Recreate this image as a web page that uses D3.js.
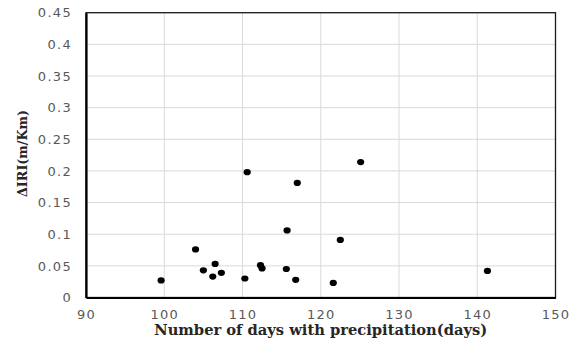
<!DOCTYPE html>
<html>
<head>
<meta charset="utf-8">
<script src="https://cdn.jsdelivr.net/npm/d3@7"></script>
<style>
  html, body { margin: 0; padding: 0; background: #fff; }
  svg { display: block; }
</style>
</head>
<body>
<svg id="chart" width="581" height="344"></svg>
<script>
// Number of days with precipitation (x) vs. change in IRI (y)
const days = [99.6, 104.0, 105.0, 106.2, 106.5, 107.3, 110.3, 110.6, 112.3, 112.5,
              115.6, 115.7, 116.8, 117.0, 121.6, 122.5, 125.1, 141.3];
const deltaIRI = [0.027, 0.076, 0.043, 0.033, 0.053, 0.039, 0.030, 0.198, 0.051, 0.046,
                  0.045, 0.106, 0.028, 0.181, 0.023, 0.091, 0.214, 0.042];
const xTicks = [90, 100, 110, 120, 130, 140, 150];
const yTicks = [0, 0.05, 0.1, 0.15, 0.2, 0.25, 0.3, 0.35, 0.4, 0.45];
const xTitle = "Number of days with precipitation(days)";
const yTitle = "\u0394IRI(m/Km)";

const svg = d3.select("#chart");
const m = { left: 86, right: 555.5, top: 12.7, bottom: 297.5 };

const x = d3.scaleLinear().domain([90, 150]).range([m.left, m.right]);
const y = d3.scaleLinear().domain([0, 0.45]).range([m.bottom, m.top]);

// gridlines
svg.append("g")
  .selectAll("line")
  .data(yTicks.filter(d => d > 0))
  .join("line")
  .attr("x1", m.left).attr("x2", m.right)
  .attr("y1", d => y(d)).attr("y2", d => y(d))
  .attr("stroke", "#d9d9d9").attr("stroke-width", 1);

svg.append("g")
  .selectAll("line")
  .data(xTicks.filter(d => d > 90 && d < 150))
  .join("line")
  .attr("y1", m.top).attr("y2", m.bottom)
  .attr("x1", d => x(d)).attr("x2", d => x(d))
  .attr("stroke", "#d9d9d9").attr("stroke-width", 1);

// plot frame
svg.append("rect")
  .attr("x", m.left).attr("y", m.top)
  .attr("width", m.right - m.left).attr("height", m.bottom - m.top)
  .attr("fill", "none").attr("stroke", "#1a1a1a").attr("stroke-width", 1.3);

// axes via d3-axis (domain lines heavier, no tick marks)
const fmt = d3.format("");
const xAxis = svg.append("g")
  .attr("transform", `translate(0,${m.bottom})`)
  .call(d3.axisBottom(x).tickValues(xTicks).tickSize(0).tickPadding(12).tickFormat(d => fmt(d)));
const yAxis = svg.append("g")
  .attr("transform", `translate(${m.left},0)`)
  .call(d3.axisLeft(y).tickValues(yTicks).tickSize(0).tickPadding(14).tickFormat(d => fmt(d)));

[xAxis, yAxis].forEach(g => {
  g.select(".domain").attr("stroke", "#000").attr("stroke-width", 2.2);
  g.selectAll("text")
    .attr("fill", "#595959")
    .attr("font-family", "DejaVu Sans, sans-serif")
    .attr("font-size", 13)
    .attr("letter-spacing", 1.3);
});
xAxis.selectAll("text").attr("dy", "0.71em");

// points
svg.append("g")
  .selectAll("ellipse")
  .data(days.map((d, i) => [d, deltaIRI[i]]))
  .join("ellipse")
  .attr("cx", d => x(d[0]))
  .attr("cy", d => y(d[1]))
  .attr("rx", 3.6).attr("ry", 3.1)
  .attr("fill", "#000");

// axis titles
const xt = svg.append("text")
  .attr("x", (m.left + m.right) / 2)
  .attr("y", 335)
  .attr("text-anchor", "middle")
  .attr("font-family", "DejaVu Serif, serif")
  .attr("font-weight", "bold")
  .attr("font-size", 14)
  .attr("fill", "#262626")
  .text(xTitle);
xt.attr("textLength", 333).attr("lengthAdjust", "spacingAndGlyphs");

svg.append("text")
  .attr("transform", "translate(27,153.5) rotate(-90)")
  .attr("text-anchor", "middle")
  .attr("font-family", "DejaVu Serif, serif")
  .attr("font-weight", "bold")
  .attr("font-size", 12.5)
  .attr("fill", "#262626")
  .attr("textLength", 87)
  .attr("lengthAdjust", "spacingAndGlyphs")
  .text(yTitle);
</script>
</body>
</html>
